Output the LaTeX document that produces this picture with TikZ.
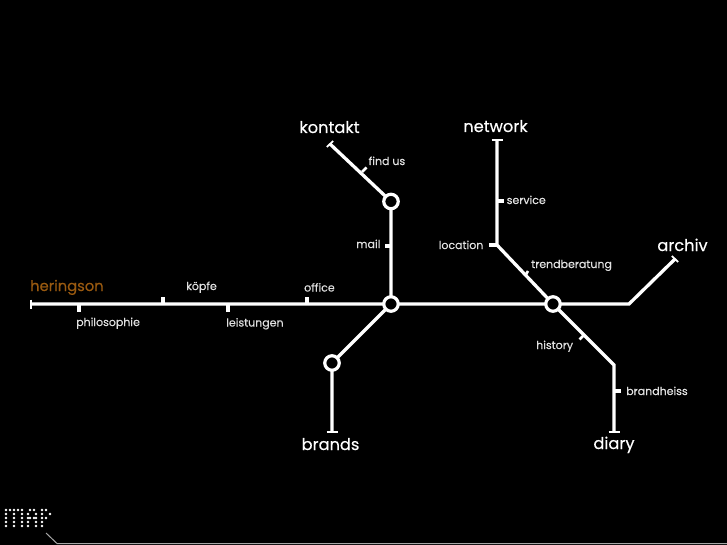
\documentclass[tikz,border=0pt]{standalone}
\usepackage{fontspec}
\setmainfont[FakeBold=0.3]{Poppins}
\definecolor{rail}{gray}{1}
\definecolor{labelgray}{gray}{0.88}
\definecolor{brandtone}{HTML}{9A5A10}
\tikzset{
  x=1pt,y=-1pt,
  railway/.style={draw=rail,line width=3.3pt,line join=miter},
  stub/.style={draw=rail,line width=3.6pt},
  endcap/.style={draw=rail,line width=1.8pt},
  station/.style={circle,draw=rail,fill=black,line width=3.2pt,minimum size=14.5pt,inner sep=0pt},
  minor/.style={text=labelgray,font=\fontsize{11}{13}\selectfont,inner sep=0pt},
  major/.style={text=white,font=\fontsize{16.2}{19}\selectfont,inner sep=0pt},
  dot/.style={fill=white,draw=none,circle,minimum size=2.7pt,inner sep=0pt}
}
\begin{document}
\begin{tikzpicture}
\useasboundingbox (0,0) rectangle (727,545);
\fill[black] (0,0) rectangle (727,545);

% stations and line ends
\coordinate (west) at (31,304);
\coordinate (bend) at (629,304);
\coordinate (eastend) at (675,259);
\coordinate (ktend) at (330,144);
\coordinate (nwend) at (497,140);
\coordinate (nwbend) at (497,245);
\coordinate (dybend) at (614,365);
\coordinate (dyend) at (614,432);
\coordinate (brend) at (332,432);

% track
\draw[railway] (west) -- (bend) -- (eastend);
\draw[railway] (ktend) -- (391,201.5) -- (391,304) -- (332,363) -- (brend);
\draw[railway] (nwend) -- (nwbend) -- (553,304) -- (dybend) -- (dyend);

% terminal bars
\draw[endcap] (31,299.5) -- (31,308.5);
\draw[endcap] (326.8,147) -- (333.2,141);
\draw[endcap] (671.8,256) -- (678.2,262);
\draw[endcap] (491.5,140) -- (502.5,140);
\draw[endcap] (326.5,432) -- (337.5,432);
\draw[endcap] (608.5,432) -- (619.5,432);

% stop ticks
\draw[stub] (79,304) -- (79,311.5);
\draw[stub] (163,304) -- (163,296.5);
\draw[stub] (228,304) -- (228,311.5);
\draw[stub] (307,304) -- (307,296.5);
\draw[stub] (391,246) -- (384.5,246);
\draw[stub] (497,201) -- (503.5,201);
\draw[stub] (497,245) -- (489,245);
\draw[stub] (614,391) -- (621,391);
\draw[endcap,line width=2.6pt] (362,172) -- (366.5,167.5);
\draw[endcap,line width=2.6pt] (525,276) -- (528,271);
\draw[endcap,line width=2.6pt] (584,335) -- (579.5,339.5);

% interchanges
\node[station] (kt) at (391,201.5) {};
\node[station] (hub) at (391,304) {};
\node[station] (east) at (553,304) {};
\node[station] (br) at (332,363) {};

% labels
\node[major,text=brandtone,font=\fontsize{14.7}{18}\selectfont,anchor=base west] (heringson) at (30,291) {heringson};
\node[major,anchor=base] (kontakt) at (329.5,133) {kontakt};
\node[major,anchor=base] (network) at (495.5,132) {network};
\node[major,anchor=base] (archiv) at (682.5,251) {archiv};
\node[major,anchor=base] (brands) at (330.5,450) {brands};
\node[major,anchor=base] (diary) at (614,449) {diary};
\node[minor,anchor=base west] (philo) at (76,326) {philosophie};
\node[minor,anchor=base] (koepfe) at (201.5,290) {köpfe};
\node[minor,anchor=base west] (leist) at (226,326.5) {leistungen};
\node[minor,anchor=base west] (office) at (304,291.5) {office};
\node[minor,anchor=base west] (mail) at (356,248) {mail};
\node[minor,anchor=base west] (findus) at (368.5,165) {find us};
\node[minor,anchor=base west] (service) at (506.5,204) {service};
\node[minor,anchor=base west] (location) at (438.5,249) {location};
\node[minor,anchor=base west] (trend) at (531,268) {trendberatung};
\node[minor,anchor=base west] (history) at (536,349) {history};
\node[minor,anchor=base west] (brandh) at (626,395) {brandheiss};

% dot-matrix title
\foreach \cx/\cy in {6/510,6/514,6/518,6/522,6/526,
                     10/510,14/510,14/514,14/518,14/522,14/526,
                     18/510,22/510,22/514,22/518,22/522,22/526,
                     28/514,28/518,28/522,28/526,30/510,34/510,36/514,36/518,36/522,36/526,30/518,34/518,
                     42/510,42/514,42/518,42/522,42/526,46/510,46/518,50/514}
  \node[dot] at (\cx,\cy) {};

% corner rule
\coordinate (ruleA) at (46,533);
\coordinate (ruleB) at (57,543.5);
\coordinate (ruleC) at (727,543.5);
\draw[draw=gray!70,line width=1pt] (ruleA) -- (ruleB) -- (ruleC);
\end{tikzpicture}
\end{document}
